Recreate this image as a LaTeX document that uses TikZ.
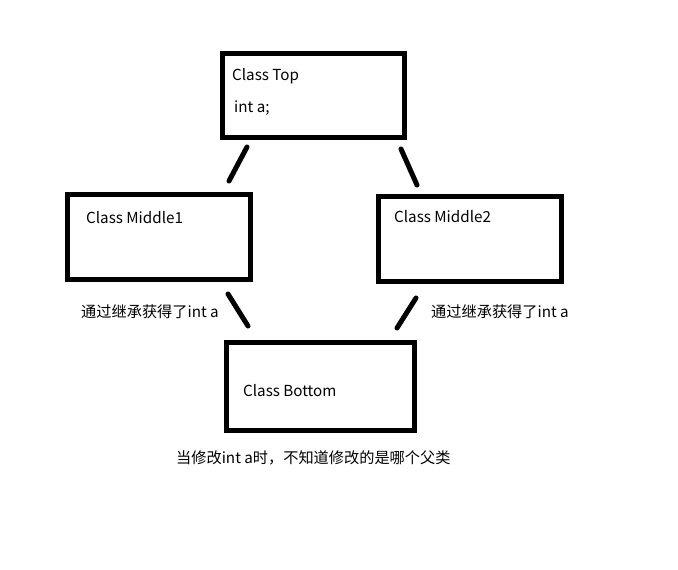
\documentclass[tikz,border=0pt]{standalone}
\usepackage{fontspec}
\setmainfont{Noto Sans CJK SC}
\begin{document}
\begin{tikzpicture}[x=1pt,y=-1pt,
  box/.style={draw=black,line width=5pt},
  link/.style={draw=black,line width=5pt,line cap=round},
  lbl/.style={anchor=base west,inner sep=0pt,font=\fontsize{15.2pt}{18pt}\selectfont}]
\useasboundingbox (0,0) rectangle (678,570);
\fill[white] (0,0) rectangle (678,570);
% boxes
\draw[box] (222.5,53.5) rectangle (404.5,137.5);
\draw[box] (67.5,194.5) rectangle (250.5,279.5);
\draw[box] (378.5,196.5) rectangle (561.5,281.5);
\draw[box] (226.5,342.5) rectangle (414.5,430.5);
% coordinates for links
\coordinate (t1) at (247,147); \coordinate (m1t) at (229,181);
\coordinate (t2) at (401,149); \coordinate (m2t) at (417,185);
\coordinate (m1b) at (228,294); \coordinate (b1) at (248,326);
\coordinate (m2b) at (416,298); \coordinate (b2) at (397,328);
\draw[link] (t1) -- (m1t);
\draw[link] (t2) -- (m2t);
\draw[link] (m1b) -- (b1);
\draw[link] (m2b) -- (b2);
% texts
\node[lbl] (tt) at (232,80) {Class Top};
\node[lbl] (ta) at (234,112) {int a;};
\node[lbl] (m1) at (86,223) {Class Middle1};
\node[lbl] (m2) at (394,222) {Class Middle2};
\node[lbl] (l1) at (81,317) {通过继承获得了int a};
\node[lbl] (l2) at (431,317) {通过继承获得了int a};
\node[lbl] (bt) at (243,396) {Class Bottom};
\node[lbl] (bq) at (176,463) {当修改int a时，不知道修改的是哪个父类};
\end{tikzpicture}
\end{document}
